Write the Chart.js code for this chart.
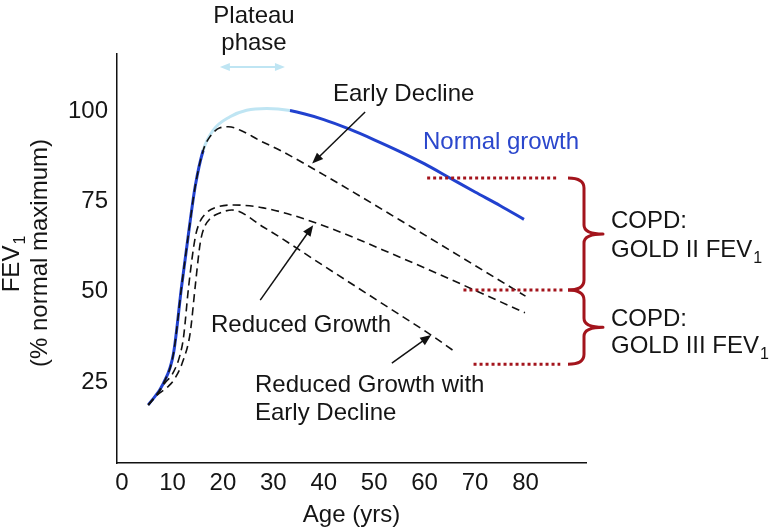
<!DOCTYPE html>
<html>
<head>
<meta charset="utf-8">
<script src="https://cdn.jsdelivr.net/npm/chart.js@4"></script>
<style>
  html, body { margin: 0; padding: 0; background: #fff; }
  #wrap { width: 771px; height: 528px; position: relative; }
</style>
</head>
<body>
<div id="wrap"><canvas id="fevChart"></canvas></div>
<script>
// --- Data (age in years, FEV1 in % of normal maximum) ---
const xTicks = [0, 10, 20, 30, 40, 50, 60, 70, 80];
const yTicks = [25, 50, 75, 100];

const normalAge = [5.2, 8.2, 10.2, 11.8, 13.1, 14.5, 16.1, 18.1, 21.4, 24.7, 28.7, 33.3, 40, 45, 50, 55, 60, 65, 70, 75, 79.7];
const normalFev = [18.6, 24.6, 32.9, 51.4, 65.3, 79.2, 89.3, 94.9, 98.6, 100.4, 100.9, 100.3, 97.8, 95.2, 92.2, 89, 85.5, 81.6, 77.7, 73.9, 70.1];

const earlyAge = [5.2, 8.2, 10.2, 11.8, 13.1, 14.5, 16.1, 17.4, 19.4, 21.1, 24, 27, 31.3, 41.2, 55, 80];
const earlyFev = [18.6, 24.6, 32.9, 51.4, 65.3, 79.2, 89.3, 93.0, 95.5, 95.8, 94.5, 92.2, 89.3, 81.5, 70, 48.8];

const reducedAge = [5.2, 7, 8.5, 10, 11.5, 12.2, 13.2, 14.5, 15.3, 16.8, 18.5, 22.1, 28, 37.9, 55.1, 79.9];
const reducedFev = [18.6, 21.6, 24.7, 27.2, 32.5, 37.5, 51.4, 65, 69, 72, 73.4, 74.1, 73.3, 69.4, 59.6, 44.2];

const reducedEarlyAge = [5.2, 7, 9.2, 10.5, 12, 13.5, 14.5, 15.5, 16.2, 17.4, 19.4, 21.8, 28, 40, 55.1, 61.3, 66];
const reducedEarlyFev = [18.6, 21.4, 23.8, 26, 30.5, 38.5, 51.4, 63.5, 67.5, 70.2, 71.9, 72.7, 68, 57.2, 43.6, 38, 33.4];

// plateau phase (light blue part of the normal curve)
const plateauAges = [16.1, 33.3];
// GOLD thresholds (red dotted lines)
const goldLevels = [81.6, 50.5, 29.9];
const goldFrom = [60.5, 67.7, 69.7];
const goldTo = [86.3, 87.5, 86.9];

const FONT = "'Liberation Sans', Arial, Helvetica, sans-serif";
const BLUE = '#2141cf';
const LIGHT_BLUE = '#bfe5f3';
const RED = '#a3141c';

const pts = (xs, ys) => xs.map((v, i) => ({ x: v, y: ys[i] }));

const dashedStyle = {
    borderColor: '#111', borderWidth: 1.6, borderDash: [8, 5],
    pointRadius: 0, fill: false, cubicInterpolationMode: 'monotone', order: 1
};

const datasets = [
    Object.assign({ label: 'Early Decline', data: pts(earlyAge, earlyFev) }, dashedStyle),
    Object.assign({ label: 'Reduced Growth', data: pts(reducedAge, reducedFev) }, dashedStyle),
    Object.assign({ label: 'Reduced Growth with Early Decline', data: pts(reducedEarlyAge, reducedEarlyFev) }, dashedStyle),
    {
        label: 'Normal growth', data: pts(normalAge, normalFev),
        borderColor: BLUE, borderWidth: 3, pointRadius: 0, fill: false,
        cubicInterpolationMode: 'monotone', order: 5,
        segment: {
            borderColor: c => (c.p0.parsed.x >= plateauAges[0] && c.p1.parsed.x <= plateauAges[1]) ? LIGHT_BLUE : BLUE
        }
    }
];
goldLevels.forEach((lvl, i) => {
    datasets.push({
        label: 'GOLD ' + i, data: [{ x: goldFrom[i], y: lvl }, { x: goldTo[i], y: lvl }],
        borderColor: RED, borderWidth: 3, borderDash: [3, 3], borderCapStyle: 'butt',
        pointRadius: 0, fill: false, tension: 0, order: 0
    });
});

// --- drawing helpers ---
function txt(ctx, s, x, y, align, color, size) {
    ctx.font = (size || 24) + 'px ' + FONT;
    ctx.fillStyle = color || '#151515';
    ctx.textAlign = align || 'left';
    ctx.textBaseline = 'alphabetic';
    ctx.fillText(s, x, y);
}

function txtSub(ctx, main, sub, x, y, align) {
    ctx.font = '24px ' + FONT;
    const w = ctx.measureText(main).width;
    ctx.font = '16px ' + FONT;
    const ws = ctx.measureText(sub).width;
    const x0 = align === 'center' ? x - (w + ws + 1) / 2 : x;
    txt(ctx, main, x0, y, 'left');
    txt(ctx, sub, x0 + w + 1, y + 6, 'left', '#151515', 16);
}

function arrowHead(ctx, x1, y1, x2, y2, len, half) {
    const a = Math.atan2(y2 - y1, x2 - x1);
    ctx.beginPath();
    ctx.moveTo(x2, y2);
    ctx.lineTo(x2 - len * Math.cos(a) + half * Math.sin(a), y2 - len * Math.sin(a) - half * Math.cos(a));
    ctx.lineTo(x2 - len * Math.cos(a) - half * Math.sin(a), y2 - len * Math.sin(a) + half * Math.cos(a));
    ctx.closePath();
    ctx.fill();
}

function arrow(ctx, x1, y1, x2, y2, color, width) {
    ctx.save();
    ctx.strokeStyle = color; ctx.fillStyle = color; ctx.lineWidth = width;
    const a = Math.atan2(y2 - y1, x2 - x1);
    ctx.beginPath();
    ctx.moveTo(x1, y1);
    ctx.lineTo(x2 - 8 * Math.cos(a), y2 - 8 * Math.sin(a));
    ctx.stroke();
    arrowHead(ctx, x1, y1, x2, y2, 11, 4.5);
    ctx.restore();
}

function brace(ctx, x, yTop, yBot, tipX, hookX) {
    const yMid = (yTop + yBot) / 2;
    ctx.beginPath();
    ctx.moveTo(hookX, yTop);
    ctx.quadraticCurveTo(x, yTop, x, yTop + 10);
    ctx.lineTo(x, yMid - 9);
    ctx.quadraticCurveTo(x, yMid, tipX, yMid);
    ctx.quadraticCurveTo(x, yMid, x, yMid + 9);
    ctx.lineTo(x, yBot - 10);
    ctx.quadraticCurveTo(x, yBot, hookX, yBot);
    ctx.stroke();
}

const annotations = {
    id: 'annotations',
    afterDraw(chart) {
        const { ctx, chartArea, scales: { x, y } } = chart;
        const px = v => x.getPixelForValue(v);
        const py = v => y.getPixelForValue(v);
        ctx.save();

        // plateau phase double arrow
        ctx.strokeStyle = LIGHT_BLUE; ctx.fillStyle = LIGHT_BLUE; ctx.lineWidth = 2;
        const ax1 = px(19.4), ax2 = px(32.3), ay = py(112.4);
        ctx.beginPath(); ctx.moveTo(ax1 + 6, ay); ctx.lineTo(ax2 - 6, ay); ctx.stroke();
        arrowHead(ctx, ax2, ay, ax1, ay, 10, 4);
        arrowHead(ctx, ax1, ay, ax2, ay, 10, 4);

        // pointer arrows
        arrow(ctx, px(48.2), py(99.9), px(37.7), py(85.6), '#111', 1.5);
        arrow(ctx, px(27.4), py(47.7), px(37.9), py(68.5), '#111', 1.5);
        arrow(ctx, px(53.5), py(30.2), px(61.3), py(38.0), '#111', 1.5);

        // red braces
        ctx.strokeStyle = RED; ctx.lineWidth = 3; ctx.lineJoin = 'round';
        brace(ctx, 584, py(goldLevels[0]), py(goldLevels[1]), 603, 568);
        brace(ctx, 584, py(goldLevels[1]), py(goldLevels[2]), 603, 568);

        // text
        txt(ctx, 'Plateau', 254, 23, 'center');
        txt(ctx, 'phase', 254, 50, 'center');
        txt(ctx, 'Early Decline', 333, 101);
        txt(ctx, 'Normal growth', 423, 149, 'left', '#2b47cc');
        txt(ctx, 'Reduced Growth', 211, 332);
        txt(ctx, 'Reduced Growth with', 255, 392);
        txt(ctx, 'Early Decline', 255, 420);
        txt(ctx, 'COPD:', 611, 228);
        txtSub(ctx, 'GOLD II FEV', '1', 611, 257);
        txt(ctx, 'COPD:', 611, 326);
        txtSub(ctx, 'GOLD III FEV', '1', 611, 353);
        txt(ctx, 'Age (yrs)', (chartArea.left + chartArea.right) / 2, 522, 'center');

        // y axis title (rotated)
        ctx.save();
        ctx.translate(19, 264);
        ctx.rotate(-Math.PI / 2);
        txtSub(ctx, 'FEV', '1', 0, 0, 'center');
        ctx.restore();
        ctx.save();
        ctx.translate(47, 253);
        ctx.rotate(-Math.PI / 2);
        txt(ctx, '(% normal maximum)', 0, 0, 'center');
        ctx.restore();

        ctx.restore();
    }
};

new Chart(document.getElementById('fevChart'), {
    type: 'line',
    data: { datasets },
    options: {
        responsive: true,
        maintainAspectRatio: false,
        animation: false,
        events: [],
        layout: { padding: { left: 0, top: 54, right: 185, bottom: 0 } },
        plugins: { legend: { display: false }, tooltip: { enabled: false } },
        scales: {
            x: {
                type: 'linear', min: -1, max: 92,
                grid: { display: false, drawTicks: false },
                border: { display: true, color: '#111', width: 1.5 },
                afterBuildTicks: s => { s.ticks = xTicks.map(v => ({ value: v })); },
                afterFit: s => { s.height = 65; },
                ticks: { color: '#151515', padding: 6, font: { family: FONT, size: 24 } }
            },
            y: {
                type: 'linear', min: 2.5, max: 116,
                grid: { display: false, drawTicks: false },
                border: { display: true, color: '#111', width: 1.5 },
                afterBuildTicks: s => { s.ticks = yTicks.map(v => ({ value: v })); },
                afterFit: s => { s.width = 117; },
                ticks: { color: '#151515', padding: 9, font: { family: FONT, size: 24 } }
            }
        }
    },
    plugins: [annotations]
});
</script>
</body>
</html>
